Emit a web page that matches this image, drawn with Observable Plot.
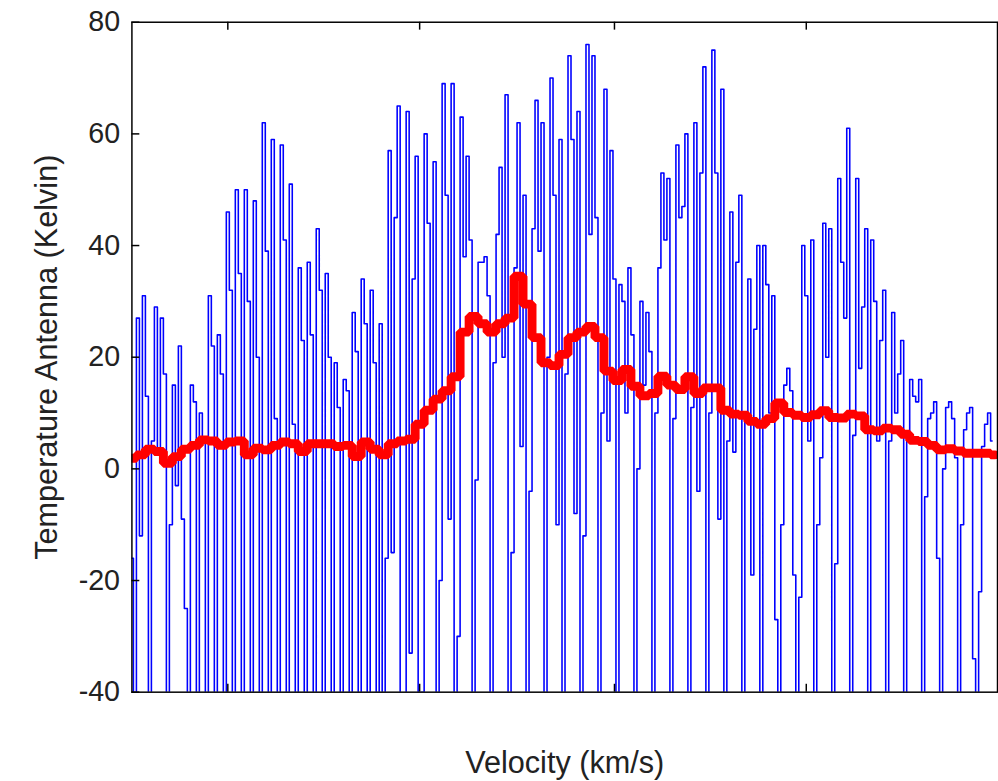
<!DOCTYPE html>
<html><head><meta charset="utf-8">
<script src="https://cdn.jsdelivr.net/npm/d3@7"></script>
<script src="https://cdn.jsdelivr.net/npm/@observablehq/plot@0.6"></script>
<style>
html,body{margin:0;padding:0;background:#fff;overflow:hidden;width:998px;height:781px;}
svg{display:block;}
</style></head><body>
<script>
// Raw antenna temperature (K), one value per channel
const blueTemperature = [
  -16,-110,27,-12,31,13,
  -110,5,29,3,27,17,
  -110,-10,15,-3,22,-9,
  -25,-110,15,12,-110,10,
  5,-110,31,22,-110,24,
  17,-110,46,32,-110,50,
  35,-110,50,30,-110,48,
  20,-110,62,39,-110,59,
  9,-110,58,41,-110,51,
  8,-110,36,23,-110,37,
  24,-110,43,32,-110,35,
  20,-110,19,11,-110,16,
  14,-110,28,21,-110,34,
  26,-110,32,19,-110,26,
  -110,-16,57,-15,45,65,
  -110,-60,64,-33,34,56,
  -110,-40,60,44,10,55,
  -110,-20,69,49,-9,69,
  -110,-30,63,38,56,41,
  -110,-2,37,37,38,31,
  -110,19,42,54,20,67,
  -110,-15,36,62,4,49,
  -110,-4,43,66,39,62,
  -110,20,70,49,-10,59,
  -110,17,74,59,-8,64,
  -110,-12,76,42,74,45,
  -110,10,68,5,57,34,
  -110,33,30,10,36,24,
  -110,0,30,15,28,21,
  -110,10,36,53,41,52,
  -110,9,58,45,47,60,
  -110,11,62,-4,53,72,
  -110,10,75,53,-9,68,
  -110,5,46,3,37,49,
  -110,10,34,-19,25,40,
  -110,40,33,10,31,-27,
  -110,-10,15,18,14,-19,
  -110,-23,40,31,5,41,
  -110,-10,2,44,20,43,
  -110,-17,52,37,27,61,
  -110,6,52,18,29,43,
  -110,41,30,5,23,32,
  -110,5,28,10,17,23,
  -110,5,16,13,12,16,
  -110,-5,9,10,12,-16,
  -110,0,11,12,9,2,
  -110,-10,7,10,11,-34,
  -110,-22,4,8,10,5
];
// Smoothed temperature (K), one value every 3 channels
const redSmoothed = [
  1.9,2.5,3.5,3.1,1.0,2.2,3.5,4.2,5.2,5.0,
  4.2,4.8,5.0,2.5,3.7,3.4,4.2,4.8,4.5,3.1,
  4.5,4.5,4.5,4.0,4.2,2.2,4.8,3.5,2.5,4.5,
  5.0,5.3,8.0,10.5,12.5,14.0,16.5,24.5,27.3,26,
  24.5,26,27,34.5,29.5,23.5,19,18.5,20.5,23.5,
  24.5,25.5,23.5,17.5,15.8,17.8,14.8,13.1,13.5,16.6,
  15.0,14.2,16.5,13.5,14.5,14.5,10.5,9.8,9.6,8.5,
  8.0,9.0,11.8,10.1,9.6,9.2,9.7,10.4,9.2,9.1,
  9.8,9.5,7.0,6.8,7.3,7.0,6.2,5.1,4.9,4.2,
  3.4,3.6,3.2,2.8,2.8,2.8,2.5
];
const redStep = 3;
const yTicks = [-40,-20,0,20,40,60,80];
const xTicks = [32,96,161,225];
const xDomain = [0,288.8];
const yDomain = [-40,80];
const xLabel = "Velocity (km/s)";
const yLabel = "Temperature Antenna (Kelvin)";

const blue = blueTemperature.map((v,i)=>({channel:i, value:v}));
const red = redSmoothed.map((v,i)=>({channel:i*redStep, value:v}));

const W=1010, H=781, mL=133, mR=1, mT=22, mB=81;
const plotW = W-mL-mR, plotH = H-mT-mB;
const chart = Plot.plot({
  width: W, height: H,
  marginLeft: mL, marginRight: mR, marginTop: mT, marginBottom: mB,
  style: {fontFamily: "'Liberation Sans', Arial, sans-serif", fontSize: "29px", background: "#fff", color: "#000", overflow: "visible"},
  x: {domain: xDomain, axis: null},
  y: {domain: yDomain, axis: null},
  marks: [
    Plot.line(blue, {x:"channel", y:"value", curve:"step", stroke:"#0000ff", strokeWidth:1.6, clip:true}),
    Plot.line(red, {x:"channel", y:"value", curve:"step", stroke:"#ff0000", strokeWidth:9, strokeLinejoin:"miter", clip:true}),
    Plot.frame({stroke:"#000", strokeWidth:1.5}),
    Plot.tickY(yTicks, {y:d=>d, stroke:"#000", strokeWidth:1.5, insetRight: plotW-8}),
    Plot.tickX(xTicks, {x:d=>d, stroke:"#000", strokeWidth:1.5, insetTop: plotH-8}),
    Plot.tickX(xTicks, {x:d=>d, stroke:"#000", strokeWidth:1.5, insetBottom: plotH-8}),
    Plot.axisY(yTicks, {tickSize:0, tickPadding:12, fontSize:29, fill:"#222", label:null, tickFormat:d=>String(d)}),
    Plot.text([yLabel], {frameAnchor:"left", dx:-86, rotate:-90, textAnchor:"middle", lineAnchor:"middle", fontSize:31, fill:"#222", text:d=>d}),
    Plot.text([xLabel], {frameAnchor:"bottom", dy:82, textAnchor:"middle", lineAnchor:"bottom", fontSize:31, fill:"#222", text:d=>d})
  ]
});
document.body.appendChild(chart);
</script>
</body></html>
